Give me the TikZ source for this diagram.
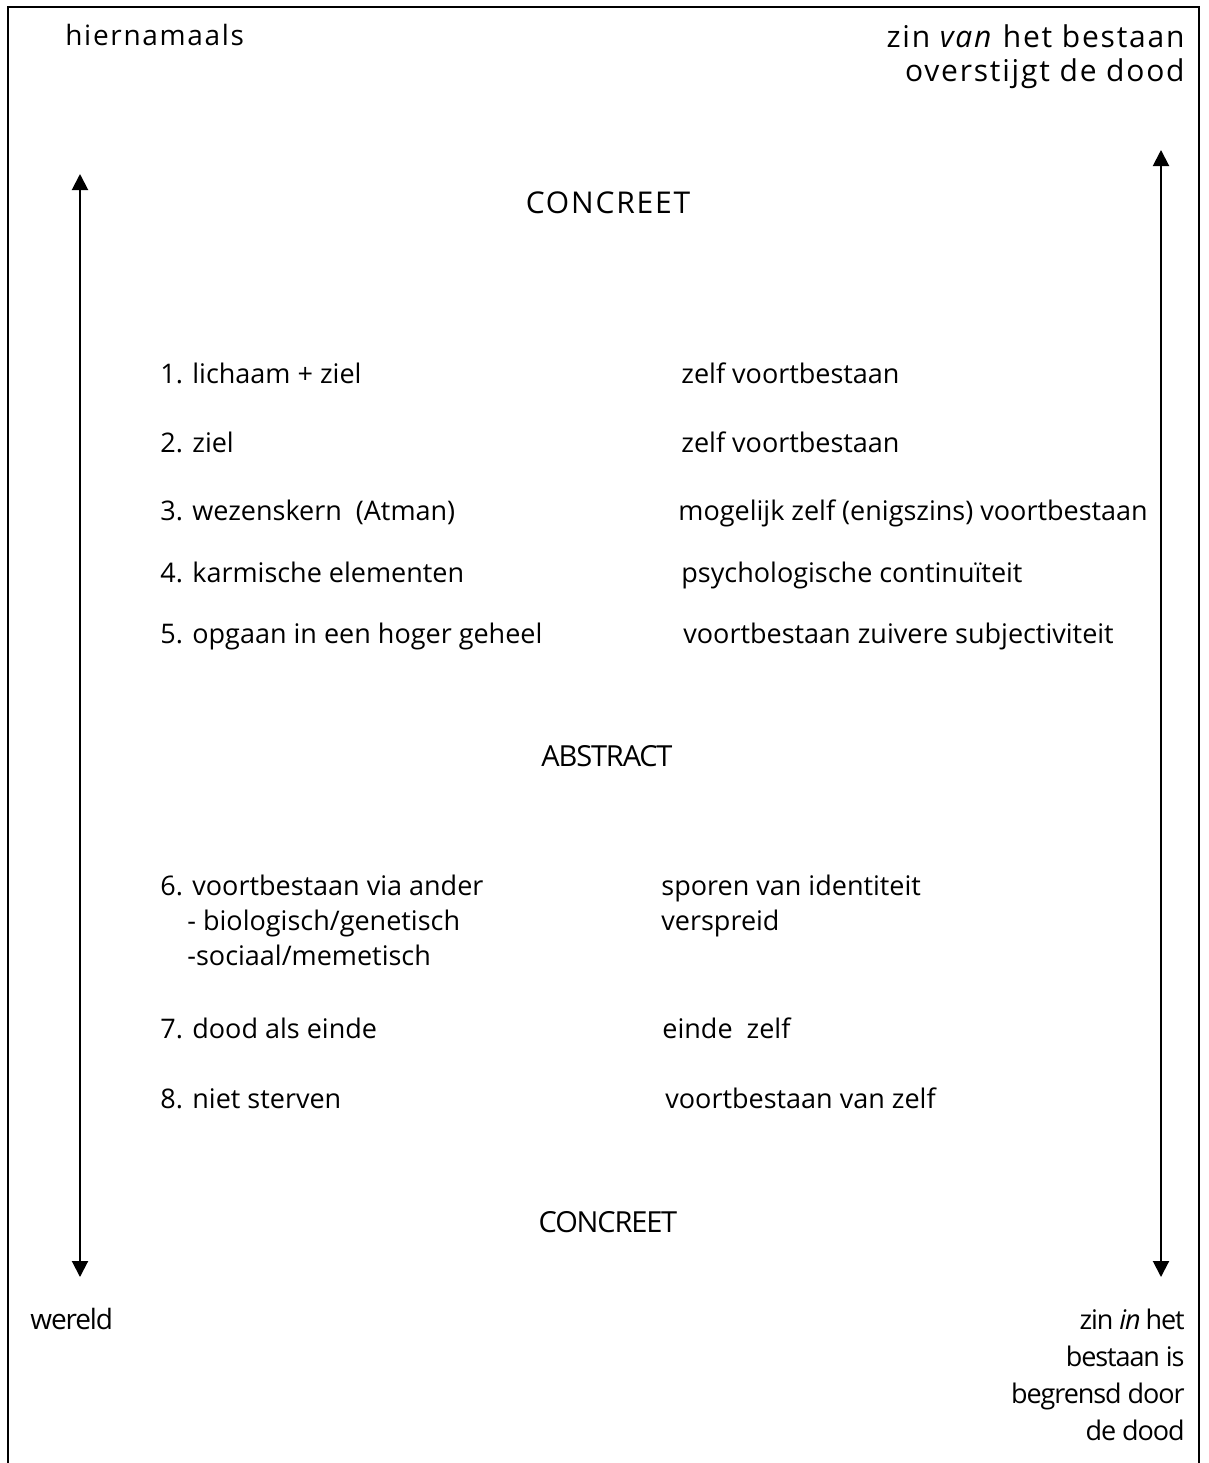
\documentclass[tikz,border=0pt]{standalone}
\usepackage{fontspec}
\setmainfont{Open Sans}
\newfontfamily\widefont[LetterSpace=6]{Open Sans}
\newfontfamily\tightfont[LetterSpace=-4]{Open Sans}
\usepackage{tikz}
\usetikzlibrary{arrows.meta,positioning}
\tikzstyle{axis} = [line width=1pt,{Triangle[width=8pt,length=8pt]}-{Triangle[width=8pt,length=8pt]}]
\tikzstyle{frame} = [line width=1pt]
\tikzstyle{item} = [anchor=base west, inner sep=0pt, font=\fontsize{13.5}{17.5}\selectfont]
\tikzstyle{corner} = [inner sep=0pt, font=\widefont\fontsize{14}{17}\selectfont]
\tikzstyle{level} = [anchor=base, inner sep=0pt]

\begin{document}
\begin{tikzpicture}[x=0.5pt,y=-0.5pt]
\useasboundingbox (0,0) rectangle (1209,1463);
% Frame
\draw[frame] (8,1463) -- (8,7) -- (1199,7) -- (1199,1463);

% Corner labels
\node[corner, anchor=base west] (after) at (65,45) {hiernamaals};
\node[corner, anchor=base east, font=\widefont\fontsize{15}{17}\selectfont] (zinvan) at (1185,47) {zin \textit{van} het bestaan};
\node[corner, anchor=base east, font=\widefont\fontsize{15}{17}\selectfont] (overstijgt) at (1185,81) {overstijgt de dood};
\node[inner sep=0pt, anchor=base west, font=\tightfont\fontsize{14}{17}\selectfont] (world) at (30,1329) {wereld};
\node[inner sep=0pt, anchor=north east, align=right, font=\tightfont\fontsize{13.5}{18.4}\selectfont] (zinin) at (1185,1309)
  {zin \textit{in} het\\bestaan is\\begrensd door\\de dood};

% Arrows
\coordinate (ltop) at (80,174);
\coordinate (lbot) at (80,1277);
\coordinate (rtop) at (1161,150);
\coordinate (rbot) at (1161,1277);
\draw[axis] (ltop) -- (lbot);
\draw[axis] (rtop) -- (rbot);

% Levels
\node[level, font=\widefont\fontsize{15}{17}\selectfont] (concreet1) at (608,213) {CONCREET};
\node[level, font=\tightfont\fontsize{14.5}{17}\selectfont] (abstract) at (607,766) {ABSTRACT};
\node[level, font=\tightfont\fontsize{14.5}{17}\selectfont] (concreet2) at (608,1232) {CONCREET};

% Views on life after death
\node[item] (v1) at (160,383) {1. lichaam + ziel};
\node[item] (v2) at (160,452) {2. ziel};
\node[item] (v3) at (160,520) {3. wezenskern\ \ (Atman)};
\node[item] (v4) at (160,582) {4. karmische elementen};
\node[item] (v5) at (160,643) {5. opgaan in een hoger geheel};
\node[item] (v6) at (160,895) {6. voortbestaan via ander};
\node[item] (v6a) at (187,930) {- biologisch/genetisch};
\node[item] (v6b) at (187,965) {-sociaal/memetisch};
\node[item] (v7) at (160,1038) {7. dood als einde};
\node[item] (v8) at (160,1108) {8. niet sterven};

% What remains of the self
\node[item] (s1) at (681,383) {zelf voortbestaan};
\node[item] (s2) at (681,452) {zelf voortbestaan};
\node[item] (s3) at (678,520) {mogelijk zelf (enigszins) voortbestaan};
\node[item] (s4) at (681,582) {psychologische continuïteit};
\node[item] (s5) at (683,643) {voortbestaan zuivere subjectiviteit};
\node[item] (s6) at (661,895) {sporen van identiteit};
\node[item] (s6b) at (661,930) {verspreid};
\node[item] (s7) at (662,1038) {einde\ \ zelf};
\node[item] (s8) at (665,1108) {voortbestaan van zelf};
\end{tikzpicture}
\end{document}
